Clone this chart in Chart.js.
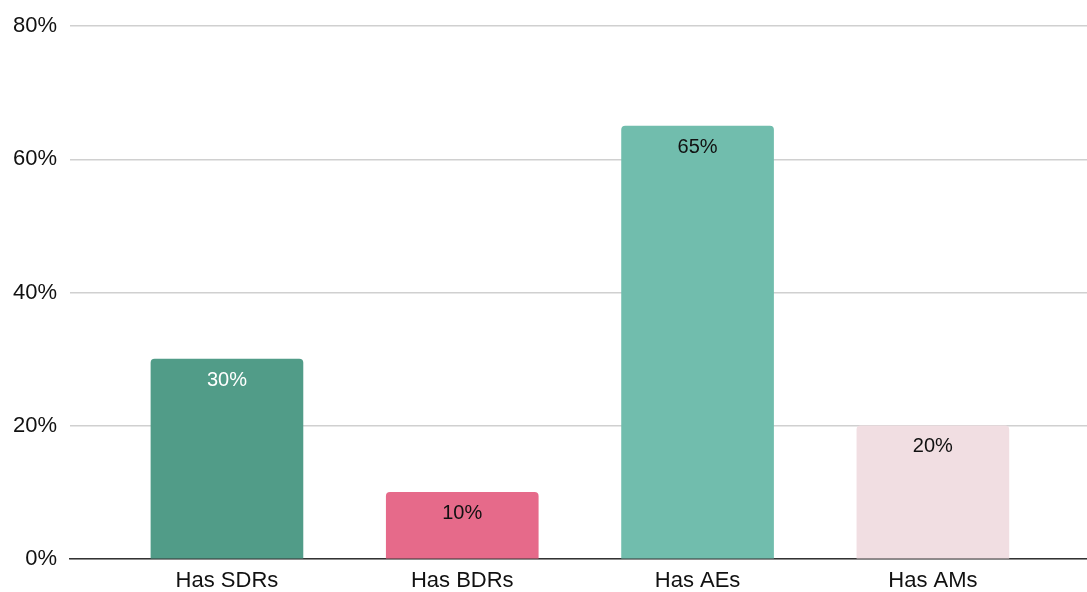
<!DOCTYPE html>
<html>
<head>
<meta charset="utf-8">
<script src="https://cdn.jsdelivr.net/npm/chart.js@4/dist/chart.umd.min.js"></script>
<style>
html,body{margin:0;padding:0;background:#fff;}
#wrap{width:1087px;height:592px;position:relative;}
</style>
</head>
<body>
<div id="wrap"><canvas id="c" width="1087" height="592"></canvas></div>
<script>
const categories = ["Has SDRs", "Has BDRs", "Has AEs", "Has AMs"];
const values = [30, 10, 65, 20];
const barColors = ["#519c88", "#e66a8a", "#71bdad", "#f1dee2"];
const labelColors = ["#ffffff", "#111111", "#111111", "#111111"];
const yTicks = [0, 20, 40, 60, 80];

const FONT = "'Liberation Sans', Arial, Helvetica, sans-serif";

const valueLabels = {
  id: 'valueLabels',
  afterDatasetsDraw(chart) {
    const ctx = chart.ctx;
    const meta = chart.getDatasetMeta(0);
    ctx.save();
    ctx.font = "20px " + FONT;
    ctx.textAlign = 'center';
    ctx.textBaseline = 'middle';
    meta.data.forEach((bar, i) => {
      ctx.fillStyle = labelColors[i];
      ctx.fillText(values[i] + '%', bar.x, bar.y + 21);
    });
    ctx.restore();
  }
};

new Chart(document.getElementById('c'), {
  type: 'bar',
  data: {
    datasets: [{
      data: values.map((v, i) => ({ x: i, y: v })),
      backgroundColor: barColors,
      borderRadius: { topLeft: 4, topRight: 4, bottomLeft: 0, bottomRight: 0 },
      borderSkipped: 'bottom',
      barThickness: 152
    }]
  },
  options: {
    responsive: false,
    animation: false,
    layout: { padding: { top: 18, right: 0, left: 0, bottom: 0 } },
    plugins: { legend: { display: false }, tooltip: { enabled: false } },
    scales: {
      x: {
        type: 'linear',
        offset: false,
        min: -0.667,
        max: 3.655,
        afterBuildTicks(scale) { scale.ticks = categories.map((c, i) => ({ value: i })); },
        afterFit(scale) { scale.height = 33; },
        ticks: {
          callback: (v) => categories[v],
          color: '#111',
          font: { family: FONT, size: 22 },
          padding: 9,
          maxRotation: 0,
          autoSkip: false
        },
        grid: { display: false, drawTicks: false, offset: false },
        border: { display: true, color: '#333333', width: 1.5 }
      },
      y: {
        min: 0,
        max: 80,
        afterBuildTicks(scale) { scale.ticks = yTicks.map(v => ({ value: v })); },
        afterFit(scale) { scale.width = 70; },
        ticks: {
          callback: (v) => v + '%',
          color: '#111',
          font: { family: FONT, size: 22 },
          padding: 13
        },
        grid: { color: '#d0d0d0', lineWidth: 1.5, drawTicks: false },
        border: { display: false }
      }
    }
  },
  plugins: [valueLabels]
});
</script>
</body>
</html>
